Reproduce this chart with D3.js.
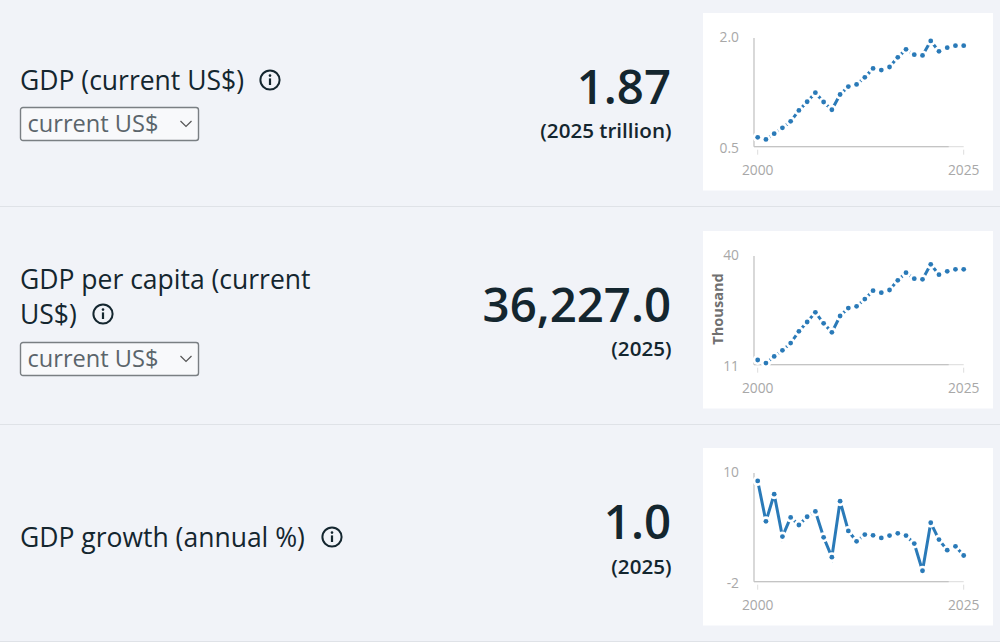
<!DOCTYPE html>
<html>
<head>
<meta charset="utf-8">
<script src="https://cdn.jsdelivr.net/npm/d3@7"></script>
<style>
  html, body { margin: 0; padding: 0; background: #f1f3f8; overflow: hidden; }
  text { font-family: "Open Sans", sans-serif; }
</style>
</head>
<body>
<svg id="page" width="1000" height="642"></svg>
<script>
const years = d3.range(2000, 2026);

const gdpValues = [0.63, 0.60, 0.68, 0.76, 0.85, 1.00, 1.12, 1.245, 1.117, 1.01, 1.22, 1.33, 1.36, 1.457, 1.58, 1.558, 1.60, 1.733, 1.844, 1.77, 1.76, 1.96, 1.816, 1.867, 1.894, 1.894];
const perCapitaValues = [12.25, 11.44, 13.22, 14.83, 16.78, 19.9, 22.39, 24.97, 22.03, 19.63, 23.99, 26.12, 26.57, 28.52, 30.75, 30.21, 30.93, 33.5, 35.55, 33.95, 33.77, 37.78, 35.02, 35.91, 36.44, 36.44];
const growthValues = [9.12, 4.66, 7.66, 2.98, 5.10, 4.26, 5.17, 5.76, 2.90, 0.71, 6.89, 3.6, 2.46, 3.2, 3.12, 2.83, 3.09, 3.34, 3.09, 2.21, -0.79, 4.51, 2.65, 1.48, 1.91, 0.89];

const titles = [["GDP (current US$)"], ["GDP per capita (current", "US$)"], ["GDP growth (annual %)"]];
const bigNumbers = ["1.87", "36,227.0", "1.0"];
const subLabels = ["(2025 trillion)", "(2025)", "(2025)"];
const yDomains = [[0.5, 2.0], [11, 40], [-2, 10]];
const yTickLabels = [["0.5", "2.0"], ["11", "40"], ["-2", "10"]];
const yTitles = [null, "Thousand", null];
const dropdowns = ["current US$", "current US$", null];
const seriesList = [gdpValues, perCapitaValues, growthValues];

const blue = "#2a7ab8", ink = "#14262f";
const svg = d3.select("#page");

// row geometry, one entry per indicator
const panelTops = [13, 231, 448];
const titleYs = [[90], [289, 324], [547]];
const iconXs = [270, 103, 332];
const iconYs = [80, 314, 537];
const bigYs = [103.5, 321.5, 538.5];
const subYs = [138, 356, 574];
const selectYs = [107, 342, null];
const ruleYs = [206, 424, 641];
const tickNudge = [1.5, -0.5];

ruleYs.forEach(y => svg.append("line").attr("x1", 0).attr("x2", 1000).attr("y1", y + 0.5).attr("y2", y + 0.5).attr("stroke", "#dfe2e7"));

seriesList.forEach((values, i) => {
  const top = panelTops[i];

  // left column text
  titles[i].forEach((line, k) => {
    svg.append("text").attr("x", 20).attr("y", titleYs[i][k]).attr("font-size", 26.5).attr("fill", ink).text(line);
  });

  const icon = svg.append("g").attr("transform", `translate(${iconXs[i]},${iconYs[i]})`);
  icon.append("circle").attr("r", 9.6).attr("fill", "none").attr("stroke", ink).attr("stroke-width", 2);
  icon.append("rect").attr("x", -1.1).attr("y", -1.6).attr("width", 2.2).attr("height", 6.6).attr("fill", ink);
  icon.append("circle").attr("cy", -4.4).attr("r", 1.3).attr("fill", ink);

  if (dropdowns[i]) {
    const sel = svg.append("g").attr("transform", `translate(20.5,${selectYs[i] + 0.5})`);
    sel.append("rect").attr("width", 178).attr("height", 33).attr("rx", 2.5).attr("fill", "#f8f9fb").attr("stroke", "#7a7f83").attr("stroke-width", 1.4);
    sel.append("text").attr("x", 7).attr("y", 24.5).attr("font-size", 23.6).attr("fill", "#5b656b").text(dropdowns[i]);
    sel.append("path").attr("d", "M160,13.5 L165.5,19 L171,13.5").attr("fill", "none").attr("stroke", "#555").attr("stroke-width", 1.2);
  }

  // headline number
  svg.append("text").attr("x", 671).attr("y", bigYs[i]).attr("text-anchor", "end").attr("font-size", 47.4).attr("font-weight", 600).attr("fill", ink).text(bigNumbers[i]);
  svg.append("text").attr("x", 671.5).attr("y", subYs[i]).attr("text-anchor", "end").attr("font-size", 20.6).attr("font-weight", 600).attr("fill", ink).text(subLabels[i]);

  // small chart
  svg.append("rect").attr("x", 703).attr("y", top).attr("width", 290).attr("height", 177.5).attr("fill", "#fff");

  const x = d3.scalePoint().domain(years).range([757.7, 963.7]);
  const y = d3.scaleLinear().domain(yDomains[i]).range([top + 133.7, top + 25]);
  const axisLeft = 754;

  const g = svg.append("g");
  g.append("line").attr("x1", axisLeft).attr("x2", axisLeft).attr("y1", y.range()[1]).attr("y2", y.range()[0]).attr("stroke", "#c4c4c4").attr("stroke-width", 1.3);
  g.append("line").attr("x1", axisLeft).attr("x2", x.range()[1]).attr("y1", y.range()[0]).attr("y2", y.range()[0]).attr("stroke", "#e2e2e2").attr("stroke-width", 1.3);
  g.append("line").attr("x1", axisLeft).attr("x2", x.range()[1] - 15).attr("y1", y.range()[0]).attr("y2", y.range()[0]).attr("stroke", "#c4c4c4").attr("stroke-width", 1.3);

  [2000, 2025].forEach(yr => {
    g.append("line").attr("x1", x(yr)).attr("x2", x(yr)).attr("y1", y.range()[0] + 3).attr("y2", y.range()[0] + 8).attr("stroke", "#ddd");
    g.append("text").attr("x", x(yr)).attr("y", top + 162).attr("text-anchor", "middle").attr("font-size", 13.8).attr("fill", "#a8a8a8").text(yr);
  });

  yTickLabels[i].forEach((label, k) => {
    g.append("text").attr("x", 739).attr("y", y(yDomains[i][k]) + 4.5 + tickNudge[k]).attr("text-anchor", "end").attr("font-size", 13.8).attr("fill", "#a8a8a8").text(label);
  });

  if (yTitles[i]) {
    g.append("text").attr("transform", `translate(723,${top + 78}) rotate(-90)`).attr("text-anchor", "middle").attr("font-size", 14.6).attr("font-weight", 700).attr("fill", "#707070").text(yTitles[i]);
  }

  const line = d3.line().x((d, k) => x(years[k])).y(d => y(d));
  g.append("path").datum(values).attr("d", line).attr("fill", "none").attr("stroke", blue).attr("stroke-width", 3);

  // white halo under each dot eats the flatter segments
  g.selectAll("circle.halo").data(values).join("circle").attr("class", "halo")
    .attr("cx", (d, k) => x(years[k])).attr("cy", d => y(d)).attr("r", 5).attr("fill", "#fff");
  g.selectAll("circle.dot").data(values).join("circle").attr("class", "dot")
    .attr("cx", (d, k) => x(years[k])).attr("cy", d => y(d)).attr("r", 2.4).attr("fill", blue);
});
</script>
</body>
</html>
